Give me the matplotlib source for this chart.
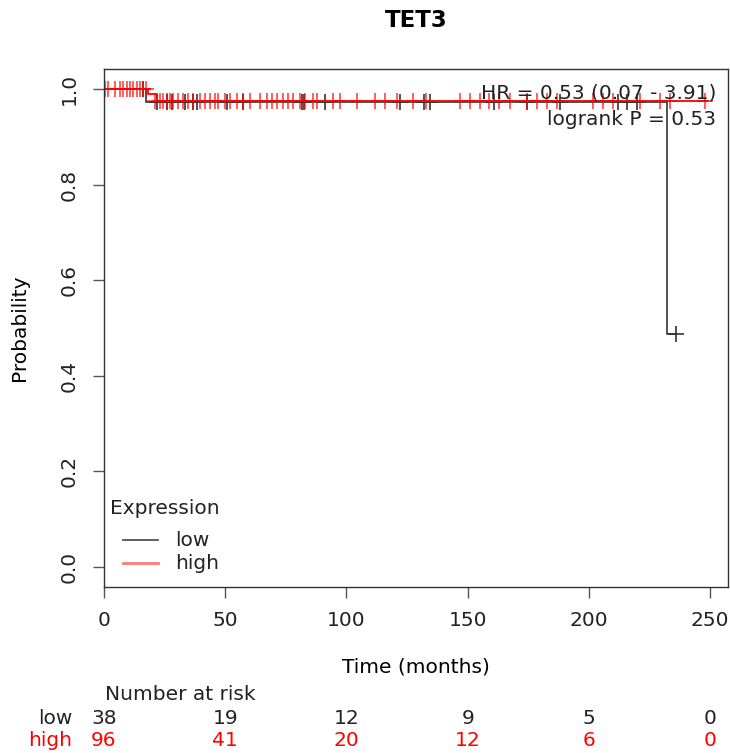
import matplotlib
matplotlib.use("Agg")
import matplotlib.pyplot as plt

# survival steps (time in months, probability)
low_t = [0, 17.5, 232.3, 236.0]
low_s = [1.0, 0.9737, 0.487, 0.487]
high_t = [0, 18.0, 21.8, 249.0]
high_s = [1.0, 0.990, 0.976, 0.976]

# censored times
low_cens_top = [16.0]
low_cens = [22, 26, 28, 33.4, 36.7, 38.4, 50.7, 57.3, 81.7, 82.5, 91, 122,
            132, 134.5, 161, 174.5, 188, 212, 215.8, 220]
low_cens_end = [236.0]
high_cens_top = [0.4, 1.6, 4.5, 6.6, 7.8, 9.5, 10.7, 12, 13.6, 14.9, 16, 17.4]
high_cens = [21, 23, 24.5, 25.9, 27.2, 28.5, 30.5, 32.6, 34.7, 36.7, 39.6, 41.7,
             43.7, 45.8, 47, 49.9, 52, 54.9, 57.3, 60.2, 64.4, 67.3, 69.3, 71.4,
             73.9, 75.9, 78, 80.8, 82.9, 86.2, 87.9, 94.5, 97.4, 104.4, 111.8,
             116, 121, 127.5, 133, 147, 151, 155, 159, 163, 167.5, 174.5, 178.6,
             182.8, 187, 201.7, 206, 210, 221, 229.4, 233.5, 248.0]

risk_times = [0, 50, 100, 150, 200, 250]
risk_low = [38, 19, 12, 9, 5, 0]
risk_high = [96, 41, 20, 12, 6, 0]

grey = "#333333"
red = "#ff0000"
fs = 14.5

fig = plt.figure(figsize=(7.3, 7.53), dpi=100)
ax = fig.add_axes([104 / 730, 1 - 587 / 753, 624 / 730, 518 / 753])

ax.step(low_t, low_s, where="post", color=grey, lw=1.2)
ax.plot(low_cens_top, [1.0] * len(low_cens_top), "+", color=grey, ms=12, mew=1.2)
ax.plot(low_cens, [low_s[1]] * len(low_cens), "+", color=grey, ms=12, mew=1.2)
ax.plot(low_cens_end, [low_s[2]] * len(low_cens_end), "+", color=grey, ms=12, mew=1.2)

ax.step(high_t, high_s, where="post", color=red, lw=1.3)
ax.plot(high_cens_top, [1.0] * len(high_cens_top), "+", color=red, ms=12, mew=1.1, alpha=0.8)
ax.plot(high_cens, [high_s[2]] * len(high_cens), "+", color=red, ms=12, mew=1.1, alpha=0.8)

ax.set_xlim(0, 257.4)
ax.set_ylim(-0.042, 1.042)
ax.set_xticks(risk_times)
ax.set_yticks([0, 0.2, 0.4, 0.6, 0.8, 1.0])
ax.set_yticklabels(["0.0", "0.2", "0.4", "0.6", "0.8", "1.0"], rotation=90, va="center")
ax.tick_params(direction="out", length=8, width=1, colors="#555555", labelcolor="#222222",
               labelsize=fs)
ax.tick_params(axis="x", pad=9)
ax.tick_params(axis="y", pad=10)
for s in ax.spines.values():
    s.set_color(grey)
    s.set_linewidth(1.0)

ax.set_title("TET3", fontsize=16.5, fontweight="bold", pad=30)
ax.set_xlabel("Time (months)", fontsize=fs, labelpad=20)
ax.set_ylabel("Probability", fontsize=fs, labelpad=22)

ax.text(0.981, 0.954, "HR = 0.53 (0.07 - 3.91)", transform=ax.transAxes,
        ha="right", va="center", fontsize=fs, color="#222222")
ax.text(0.981, 0.902, "logrank P = 0.53", transform=ax.transAxes,
        ha="right", va="center", fontsize=fs, color="#222222")

# legend drawn by hand to match the R layout
ax.text(0.0096, 0.1525, "Expression", transform=ax.transAxes, ha="left", va="center",
        fontsize=fs, color="#222222")
ax.plot([0.0304, 0.0865], [0.0907, 0.0907], transform=ax.transAxes, color="#555555", lw=1.3)
ax.plot([0.0304, 0.0865], [0.0463, 0.0463], transform=ax.transAxes, color="#ff7b7b", lw=2)
ax.text(0.1138, 0.0907, "low", transform=ax.transAxes, ha="left", va="center",
        fontsize=fs, color="#222222")
ax.text(0.1138, 0.0463, "high", transform=ax.transAxes, ha="left", va="center",
        fontsize=fs, color="#222222")

# number at risk table
fig.text(105 / 730, 1 - 694 / 753, "Number at risk", fontsize=fs, ha="left", va="center",
         color="#222222")
fig.text(72 / 730, 1 - 718 / 753, "low", fontsize=fs, ha="right", va="center", color="#222222")
fig.text(72 / 730, 1 - 741 / 753, "high", fontsize=fs, ha="right", va="center", color=red)
for t, nl, nh in zip(risk_times, risk_low, risk_high):
    xf = fig.transFigure.inverted().transform(ax.transData.transform((t, 0)))[0]
    fig.text(xf, 1 - 718 / 753, str(nl), fontsize=fs, ha="center", va="center", color="#222222")
    fig.text(xf, 1 - 741 / 753, str(nh), fontsize=fs, ha="center", va="center", color=red)

fig.savefig("out.png", dpi=100)
